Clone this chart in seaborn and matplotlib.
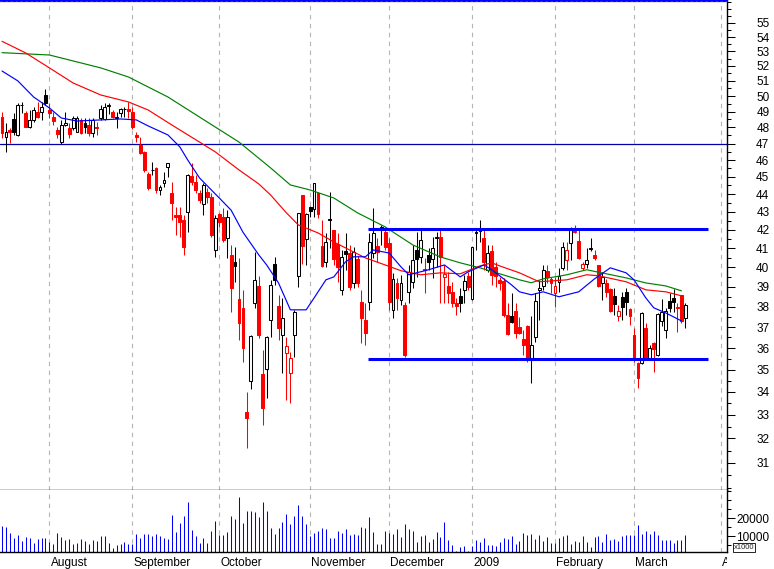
import numpy as np
import matplotlib
matplotlib.use("Agg")
import matplotlib.pyplot as plt
import seaborn as sns
from matplotlib.ticker import FixedLocator, FixedFormatter, NullFormatter
from matplotlib.transforms import blended_transform_factory, Bbox, TransformedBbox

# ---------------------------------------------------------------------------
# daily prices (one entry per trading day, mid July 2008 -> late March 2009)
# ---------------------------------------------------------------------------
opens = [48.66, 47.40, 47.84, 48.53, 47.53, 49.40, 48.91, 48.03, 48.47, 48.97,
         48.97, 50.07, 49.10, 48.66, 47.84, 47.09, 48.15, 47.97, 47.97, 47.72,
         48.47, 48.28, 48.15, 47.65, 48.00, 48.59, 48.53, 49.36, 48.97, 48.62,
         48.91, 49.14, 49.15, 48.97, 47.53, 46.91, 46.49, 45.17, 45.38, 45.53,
         44.24, 44.65, 45.59, 44.07, 42.80, 42.81, 42.53, 42.98, 45.05, 44.71,
         44.07, 43.44, 44.12, 43.84, 40.91, 42.87, 42.70, 41.54, 40.65, 40.29,
         38.38, 37.94, 33.11, 34.48, 38.18, 39.04, 34.80, 35.03, 37.35, 40.19,
         38.04, 36.63, 35.77, 34.84, 36.63, 39.56, 43.95, 41.49, 43.26, 43.14,
         44.07, 41.12, 40.29, 42.55, 41.98, 41.22, 38.84, 40.86, 40.75, 39.19,
         40.45, 38.24, 37.35, 38.24, 40.75, 41.12, 42.10, 41.87, 41.28, 37.84,
         39.19, 38.33, 38.09, 38.74, 39.25, 40.91, 40.55, 39.92, 40.65, 40.45,
         41.55, 41.59, 39.50, 39.04, 38.74, 38.20, 38.54, 38.84, 39.56, 38.38,
         41.85, 41.95, 41.54, 39.87, 40.86, 40.03, 39.35, 39.30, 37.59, 37.54,
         37.79, 37.00, 36.44, 37.06, 35.44, 36.53, 38.84, 39.04, 39.82, 39.40,
         38.69, 39.25, 39.97, 40.40, 41.28, 41.87, 41.38, 39.97, 40.19, 40.98,
         40.65, 40.14, 39.19, 39.19, 38.89, 38.54, 37.54, 38.49, 38.74, 37.89,
         36.63, 35.30, 35.30, 36.97, 35.53, 36.25, 35.68, 37.30, 36.87, 38.28,
         38.43, 38.00, 38.58, 37.45]
highs = [48.97, 48.28, 47.97, 48.91, 49.56, 49.60, 49.04, 49.10, 49.29, 49.62,
         49.62, 50.47, 49.56, 48.97, 48.03, 48.47, 48.97, 48.28, 48.72, 48.72,
         48.59, 48.59, 48.59, 48.59, 48.34, 49.43, 49.56, 49.56, 49.10, 48.97,
         49.23, 49.29, 49.62, 49.29, 47.72, 47.40, 46.55, 45.30, 45.89, 45.60,
         44.53, 45.29, 45.85, 44.71, 43.26, 43.26, 42.81, 45.15, 45.83, 45.11,
         44.24, 44.65, 44.36, 44.07, 42.81, 42.92, 43.20, 43.09, 41.17, 41.07,
         40.50, 38.84, 33.99, 36.63, 40.80, 39.56, 35.91, 36.58, 39.35, 40.55,
         38.58, 38.43, 36.53, 35.81, 37.84, 42.95, 43.97, 42.92, 43.32, 44.67,
         44.10, 42.53, 41.81, 44.10, 42.00, 41.81, 40.91, 41.81, 41.17, 41.07,
         40.60, 38.84, 38.18, 41.81, 43.20, 41.54, 42.27, 42.16, 41.54, 39.71,
         39.45, 39.61, 38.24, 40.12, 41.17, 41.87, 41.98, 40.50, 41.01, 41.59,
         41.87, 41.98, 40.12, 39.76, 39.25, 38.43, 38.94, 39.61, 39.76, 41.09,
         42.09, 42.53, 42.09, 41.17, 41.17, 40.29, 39.50, 39.45, 38.18, 38.69,
         38.18, 37.50, 36.87, 37.10, 37.54, 38.69, 39.35, 40.12, 40.12, 39.50,
         39.50, 39.97, 41.33, 41.33, 42.15, 42.27, 41.98, 40.29, 41.01, 41.54,
         40.91, 40.14, 39.76, 39.40, 38.92, 38.94, 38.09, 38.74, 38.94, 37.94,
         36.97, 35.35, 37.74, 37.21, 36.15, 36.30, 37.69, 38.38, 37.94, 38.69,
         38.89, 38.18, 38.60, 38.18]
lows = [47.34, 46.49, 47.03, 47.53, 47.47, 48.90, 48.00, 47.97, 48.34, 48.59,
        48.47, 49.43, 48.59, 48.15, 47.34, 47.00, 48.10, 47.34, 47.84, 47.70,
        47.59, 47.65, 47.47, 47.40, 47.53, 48.47, 48.47, 48.85, 48.59, 47.97,
        48.66, 48.66, 48.59, 47.90, 47.09, 46.37, 45.29, 44.24, 45.11, 44.07,
        43.95, 44.41, 45.00, 42.53, 41.70, 41.59, 40.65, 41.87, 44.53, 44.07,
        43.50, 42.81, 43.50, 41.59, 40.55, 42.15, 41.33, 40.50, 37.74, 39.25,
        36.39, 35.35, 31.60, 34.12, 37.94, 36.49, 32.56, 33.73, 36.53, 39.09,
        36.39, 34.84, 33.64, 33.50, 35.58, 38.99, 40.19, 40.14, 42.70, 42.70,
        42.64, 40.00, 40.03, 41.01, 40.14, 39.25, 38.58, 39.87, 38.84, 38.94,
        38.99, 36.25, 36.15, 37.84, 40.50, 40.29, 41.17, 40.91, 37.84, 37.45,
        37.84, 38.09, 35.58, 38.18, 38.94, 39.50, 40.24, 38.69, 39.87, 39.45,
        40.03, 38.18, 38.18, 38.18, 37.99, 37.59, 37.74, 38.18, 38.84, 38.33,
        40.91, 41.33, 39.87, 39.76, 39.09, 38.99, 38.84, 37.50, 36.63, 37.21,
        36.49, 36.65, 35.68, 35.35, 34.39, 36.30, 37.35, 38.84, 39.19, 38.69,
        37.99, 38.74, 39.87, 39.87, 40.40, 41.82, 40.45, 39.87, 39.97, 40.86,
        40.40, 38.99, 38.33, 38.50, 37.74, 37.59, 37.30, 37.35, 37.59, 37.11,
        35.35, 34.17, 35.25, 35.48, 35.45, 34.89, 35.63, 37.06, 36.49, 37.74,
        37.74, 36.78, 37.21, 36.97]
closes = [47.65, 47.72, 47.69, 47.72, 49.43, 49.45, 48.03, 48.47, 49.10, 48.66,
          49.29, 49.56, 48.91, 48.40, 47.59, 48.15, 48.28, 47.59, 48.59, 48.60,
          47.65, 48.03, 47.65, 48.47, 47.95, 49.16, 49.29, 49.43, 48.66, 48.68,
          49.16, 49.18, 49.05, 48.03, 47.40, 46.43, 45.41, 44.36, 45.43, 44.24,
          44.41, 44.82, 45.83, 43.50, 42.72, 42.42, 41.06, 45.11, 44.71, 44.24,
          43.67, 44.53, 43.84, 41.70, 42.64, 42.42, 41.43, 42.70, 38.94, 40.08,
          37.21, 36.01, 32.86, 36.58, 39.35, 36.63, 33.29, 36.53, 39.09, 39.35,
          36.97, 37.45, 36.10, 35.53, 37.74, 42.92, 41.12, 42.87, 43.03, 44.65,
          42.87, 40.08, 41.33, 42.62, 40.45, 40.03, 40.55, 40.70, 38.99, 40.80,
          39.19, 37.45, 36.73, 41.33, 41.81, 40.80, 42.16, 41.06, 38.24, 39.40,
          38.43, 39.19, 35.68, 39.76, 40.40, 40.41, 41.43, 39.85, 40.29, 41.01,
          41.60, 40.55, 39.66, 38.69, 38.18, 38.05, 38.18, 39.30, 38.99, 41.07,
          41.90, 41.98, 40.29, 40.75, 39.61, 39.56, 39.19, 37.59, 36.68, 37.25,
          36.73, 36.70, 36.15, 35.44, 36.15, 38.28, 38.94, 39.87, 39.50, 39.19,
          39.04, 39.56, 41.07, 40.91, 41.98, 41.95, 40.50, 40.19, 40.40, 41.01,
          40.50, 39.04, 39.50, 38.74, 37.79, 38.14, 37.79, 37.99, 38.24, 37.54,
          35.44, 34.62, 37.69, 35.53, 36.01, 35.98, 37.64, 37.74, 37.76, 37.94,
          38.24, 37.92, 37.30, 38.09]

# volume, in units of 1000 shares
volumes = [15500, 15000, 11800, 9100, 10700, 7400, 9600, 9100, 6300, 8100,
           8700, 9100, 6700, 5600, 11800, 9600, 7800, 8300, 5600, 6300,
           8500, 7400, 5600, 7800, 7400, 10000, 10000, 6300, 3300, 4800,
           5600, 6700, 5700, 5700, 11100, 8900, 11100, 11100, 10000, 11100,
           10000, 8900, 8100, 21700, 12200, 17000, 21100, 28900, 13300, 10000,
           6300, 8900, 6300, 12800, 18300, 10600, 10600, 12000, 21100, 19300,
           31700, 17000, 23900, 23900, 23300, 20600, 28900, 23900, 14300, 11100,
           14300, 17800, 22200, 16700, 21100, 27200, 21100, 16700, 10000, 11800,
           12800, 14300, 13700, 8900, 8900, 12800, 11800, 13700, 10600, 11100,
           10600, 15200, 14300, 20600, 12200, 5600, 5600, 12800, 11800, 11100,
           13900, 9600, 16900, 13900, 12900, 6800, 10000, 10600, 6800, 8300,
           12400, 9600, 17900, 7800, 5000, 1500, 3900, 4300, 1900, 4300,
           7800, 6800, 9100, 5000, 5000, 4300, 6800, 8700, 8300, 10000,
           5600, 7200, 11800, 10600, 11100, 8100, 10600, 7200, 9300, 5900,
           6300, 8700, 10000, 10600, 5600, 7200, 6700, 10000, 6800, 3900,
           9300, 10000, 6800, 11100, 7800, 8100, 7400, 10000, 10600, 10600,
           10600, 16100, 11100, 12900, 11100, 12900, 10600, 7800, 7800, 7800,
           6300, 7800, 8000, 10600]

# moving averages (day index, value)
ma_short_day = [0, 4, 8, 12, 15, 19, 25, 30, 34, 37, 42, 45, 47, 50, 52, 55, 58, 61,
                65, 67, 70, 73, 77, 79, 82, 84, 87, 89, 92, 94, 98, 101, 103, 108,
                112, 116, 118, 122, 124, 129, 131, 134, 137, 141, 146, 150, 154,
                158, 160, 163, 165, 168, 172]
ma_short = [51.66, 51.00, 49.94, 49.23, 48.59, 48.40, 48.47, 48.53, 48.47, 48.09,
            47.53, 46.80, 46.01, 44.94, 44.47, 43.78, 43.09, 41.87, 40.65, 40.12,
            39.19, 37.84, 37.84, 38.43, 39.35, 39.50, 40.29, 40.55, 40.55, 40.91,
            40.75, 40.02, 39.61, 39.87, 40.12, 39.50, 39.76, 40.12, 39.87, 39.09,
            38.74, 38.59, 38.74, 38.49, 38.74, 39.40, 39.97, 39.71, 39.35, 38.43,
            37.94, 37.69, 37.30]
ma_mid_day = [0, 6, 12, 18, 25, 32, 37, 43, 50, 54, 60, 65, 68, 72, 75, 80, 84, 88,
              92, 97, 101, 106, 111, 116, 121, 124, 126, 131, 136, 143, 148, 151,
              158, 163, 168, 172]
ma_mid = [53.70, 52.89, 51.87, 50.86, 50.07, 49.62, 49.10, 48.15, 47.09, 46.49,
          45.41, 44.59, 43.95, 42.94, 42.27, 41.83, 41.34, 40.91, 40.49, 40.12,
          39.82, 39.61, 39.71, 39.66, 40.07, 40.23, 40.07, 39.71, 39.25, 39.35,
          39.61, 39.56, 39.25, 38.84, 38.74, 38.54]
ma_long_day = [0, 12, 25, 32, 42, 54, 60, 68, 73, 78, 84, 90, 97, 104, 111, 116,
               121, 126, 131, 134, 137, 143, 148, 153, 158, 163, 168, 172]
ma_long = [52.91, 52.75, 51.87, 51.26, 49.94, 48.02, 47.09, 45.53, 44.53, 44.24,
           43.78, 42.94, 42.16, 41.18, 40.54, 40.23, 39.97, 39.66, 39.35, 39.20,
           39.40, 39.61, 39.87, 39.66, 39.45, 39.19, 39.04, 38.79]

# trading range drawn by hand on the chart
range_levels = [42.05, 35.50]
range_start, range_end = 92.7, 178.7
marker_level = 47.0

# first trading day of each month
month_labels = ["August", "September", "October", "November", "December",
                "2009", "February", "March", "April"]
month_start = [12, 33, 55, 78, 98, 119, 140, 160, 182]

price_labels = list(range(31, 56))
volume_labels = [10000, 20000]

# ---------------------------------------------------------------------------
sns.set_style("white")
plt.rcParams['font.family'] = ['Liberation Sans', 'DejaVu Sans']
plt.rcParams['font.size'] = 8.5

W, H = 774, 569
fig = plt.figure(figsize=(W / 100, H / 100), dpi=100)
fig.patch.set_facecolor('white')
ax = fig.add_axes([0, 79 / H, 727 / W, 490 / H])
axv = fig.add_axes([0, 17 / H, 727 / W, 62 / H], sharex=ax)

days = np.arange(len(closes))
o = np.array(opens); c = np.array(closes)
prev_close = np.r_[o[0], c[:-1]]
colors = np.where(c >= prev_close, 'black', 'red')
faces = np.where(c > o, 'white', colors)

# --- price panel -----------------------------------------------------------
for m in month_start:
    ax.axvline(m, color='#b4b4b4', lw=0.8, ls=(0, (4, 4)), zorder=0)
    axv.axvline(m, color='#b4b4b4', lw=0.8, ls=(0, (4, 4)), zorder=0)

ax.axhline(marker_level, color='#0000b0', lw=0.9, zorder=1)
ax.vlines(days, lows, highs, colors=colors, lw=0.75, zorder=2)
ax.bar(days, np.abs(c - o), bottom=np.minimum(o, c), width=0.72,
       color=faces, edgecolor=colors, linewidth=0.75, zorder=3)

for xs, ys, col in [(ma_long_day, ma_long, 'green'),
                    (ma_mid_day, ma_mid, 'red'),
                    (ma_short_day, ma_short, 'blue')]:
    sns.lineplot(x=xs, y=ys, ax=ax, color=col, lw=0.85, estimator=None,
                 legend=False, zorder=4)

ax.hlines(range_levels, range_start, range_end, color='blue', lw=2.2, zorder=5)

# top border line
ax.plot([0, 1], [0.997, 0.997], transform=ax.transAxes, color='blue', lw=1.6,
        clip_on=False, zorder=6)
ax.plot([0, 1], [0.997, 0.997], transform=ax.transAxes, color='red', lw=0.6,
        ls=(0, (3, 3)), clip_on=False, zorder=7)

ax.set_yscale('log')
ax.set_ylim(29.92, 56.67)
ax.set_xlim(-0.51, 183.54)
ax.yaxis.tick_right()
ax.yaxis.set_major_locator(FixedLocator(price_labels))
ax.yaxis.set_major_formatter(FixedFormatter([str(v) for v in price_labels]))
ax.yaxis.set_minor_locator(FixedLocator(np.arange(30.0, 57.0, 0.5)))
ax.yaxis.set_minor_formatter(NullFormatter())
ax.tick_params(axis='y', which='major', direction='out', length=5.5, width=0.75,
               colors='black', pad=25, labelsize=8.5)
ax.tick_params(axis='y', which='minor', direction='out', length=3.2, width=0.75,
               colors='black')
for t in ax.get_yticklabels():
    t.set_horizontalalignment('right')
ax.tick_params(axis='x', which='both', bottom=False, labelbottom=False)
ax.set_xlabel(''); ax.set_ylabel('')
for s in ['left', 'top']:
    ax.spines[s].set_visible(False)
for s in ['right', 'bottom']:
    ax.spines[s].set_color('black'); ax.spines[s].set_linewidth(1.0)

# --- volume panel -----------------------------------------------------------
axv.vlines(days, 0, volumes, color='blue', lw=0.75, zorder=2)
axv.set_ylim(1111, 35556)
axv.yaxis.tick_right()
axv.yaxis.set_major_locator(FixedLocator(volume_labels))
axv.yaxis.set_major_formatter(FixedFormatter([str(v) for v in volume_labels]))
axv.yaxis.set_minor_locator(FixedLocator([5000, 15000, 25000, 30000, 35000]))
axv.tick_params(axis='y', which='major', direction='out', length=5.5, width=0.75,
                colors='black', pad=25, labelsize=8.5)
axv.tick_params(axis='y', which='minor', direction='out', length=3.2, width=0.75,
                colors='black')
for t in axv.get_yticklabels():
    t.set_horizontalalignment('right')

axv.xaxis.set_major_locator(FixedLocator(month_start))
axv.xaxis.set_minor_locator(FixedLocator(np.arange(3, 183, 5)))
axv.tick_params(axis='x', which='major', direction='out', length=12.5, width=0.75,
                colors='black', labelbottom=False)
axv.tick_params(axis='x', which='minor', direction='out', length=2.5, width=0.75,
                colors='black')
for s in ['left', 'top']:
    axv.spines[s].set_visible(False)
for s in ['right', 'bottom']:
    axv.spines[s].set_color('black'); axv.spines[s].set_linewidth(1.0)

trans = blended_transform_factory(axv.transData, axv.transAxes)
clip = TransformedBbox(Bbox([[0, 0], [727 / W, 1]]), fig.transFigure)
for m, lab in zip(month_start, month_labels):
    t = axv.text(m + 0.3, -0.085, lab, transform=trans, ha='left', va='top',
                 fontsize=8.5, color='black', clip_on=True)
    t.set_clip_box(clip)

fig.text(734 / W, 1 - 547.5 / H, 'x1000', fontsize=5.5, ha='left', va='center',
         bbox=dict(boxstyle='square,pad=0.12', fc='white', ec='black', lw=0.6))

fig.savefig('out.png', dpi=100, facecolor='white')
